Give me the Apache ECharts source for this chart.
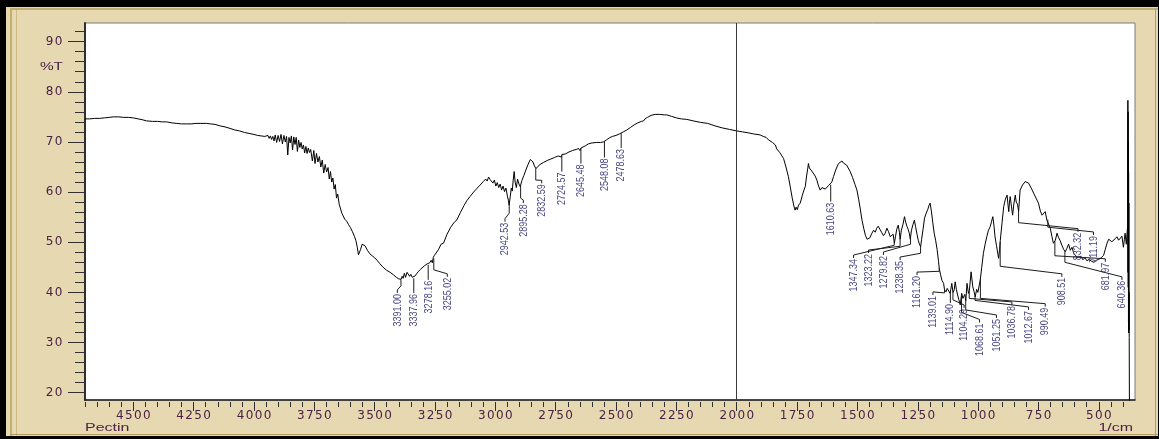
<!DOCTYPE html>
<html>
<head>
<meta charset="utf-8">
<script src="https://cdn.jsdelivr.net/npm/echarts@6/dist/echarts.min.js"></script>
<style>
  html, body { margin: 0; padding: 0; background: #000; overflow: hidden; }
  #frame { position: absolute; left: 6px; top: 7px; width: 1152px; height: 429px; background: #E6D8B0; }
  #frame .l1 { position: absolute; left: 4px; top: 2px; bottom: 0; width: 2px; background: #C4AE6E; }
  #frame .l2 { position: absolute; left: 10px; top: 2px; bottom: 0; width: 1px; background: #CDB985; }
  #frame .t1 { position: absolute; left: 4px; right: 0; top: 1px; height: 2px; background: #C4AE6E; }
  #frame .b1 { position: absolute; left: 4px; right: 0; bottom: 1px; height: 1px; background: #B49C5C; }
  #frame .r1 { position: absolute; right: 2px; top: 2px; bottom: 0; width: 1px; background: #B49C5C; }
  #chart { position: absolute; left: 0; top: 0; width: 1159px; height: 439px; }
</style>
</head>
<body>
<div id="frame"><div class="l1"></div><div class="l2"></div><div class="t1"></div><div class="b1"></div><div class="r1"></div></div>
<div id="chart"></div>
<script>
// FTIR spectrum of pectin: wavenumber (1/cm) against transmittance (%T)
const wavenumber = [
  4700, 4680, 4660, 4640, 4620, 4600, 4583, 4560, 4540, 4520, 4500, 4480, 4460, 4445, 4420, 4400,
  4380, 4362, 4340, 4320, 4300, 4279, 4260, 4240, 4220, 4196, 4180, 4161, 4140, 4120, 4099, 4080,
  4060, 4040, 4020, 4000, 3985, 3970, 3955, 3948, 3942, 3937, 3932, 3927, 3922, 3917, 3912, 3906,
  3900, 3894, 3888, 3882, 3876, 3870, 3865, 3860, 3855, 3850, 3845, 3840, 3835, 3830, 3825, 3820,
  3815, 3810, 3805, 3800, 3795, 3790, 3785, 3780, 3775, 3770, 3765, 3758, 3752, 3747, 3741, 3735,
  3729, 3723, 3717, 3711, 3705, 3699, 3693, 3688, 3683, 3678, 3673, 3668, 3663, 3658, 3653, 3647,
  3642, 3636, 3630, 3624, 3616, 3608, 3600, 3592, 3584, 3578, 3572, 3567, 3563, 3558, 3552, 3547,
  3540, 3530, 3520, 3510, 3500, 3490, 3480, 3465, 3450, 3436, 3422, 3410, 3400, 3391, 3386, 3382,
  3377, 3372, 3366, 3360, 3355, 3350, 3344, 3338, 3332, 3325, 3318, 3310, 3302, 3294, 3286, 3282,
  3278, 3272, 3266, 3261, 3257, 3255, 3252, 3246, 3236, 3225, 3215, 3200, 3185, 3170, 3160, 3145,
  3130, 3118, 3105, 3090, 3075, 3063, 3050, 3040, 3034, 3028, 3022, 3016, 3010, 3004, 2998, 2992,
  2986, 2980, 2974, 2968, 2962, 2956, 2950, 2946, 2943, 2938, 2934, 2930, 2926, 2922, 2918, 2913,
  2908, 2902, 2897, 2890, 2882, 2872, 2862, 2855, 2849, 2844, 2838, 2832, 2826, 2815, 2801, 2785,
  2770, 2755, 2740, 2732, 2727, 2724, 2720, 2710, 2695, 2680, 2665, 2655, 2650, 2645, 2640, 2628,
  2615, 2600, 2593, 2580, 2565, 2552, 2548, 2540, 2528, 2515, 2500, 2492, 2486, 2480, 2470, 2455,
  2440, 2425, 2410, 2395, 2386, 2380, 2370, 2355, 2338, 2320, 2300, 2290, 2270, 2250, 2230, 2207,
  2180, 2150, 2120, 2090, 2060, 2030, 2000, 1975, 1950, 1930, 1903, 1890, 1878, 1868, 1860, 1852,
  1848, 1840, 1834, 1828, 1822, 1815, 1806, 1796, 1786, 1778, 1770, 1763, 1758, 1754, 1749, 1744,
  1737, 1728, 1720, 1716, 1710, 1706, 1703, 1699, 1695, 1689, 1682, 1675, 1668, 1661, 1654, 1647,
  1640, 1633, 1627, 1620, 1613, 1606, 1599, 1590, 1583, 1578, 1570, 1564, 1558, 1552, 1545, 1537,
  1530, 1520, 1510, 1502, 1495, 1488, 1481, 1474, 1467, 1460, 1454, 1448, 1441, 1433, 1426, 1420,
  1414, 1406, 1400, 1392, 1385, 1378, 1371, 1364, 1358, 1352, 1347, 1342, 1337, 1331, 1326, 1323,
  1318, 1311, 1305, 1300, 1295, 1290, 1285, 1281, 1276, 1270, 1264, 1259, 1253, 1248, 1243, 1238,
  1234, 1228, 1222, 1215, 1208, 1203, 1199, 1194, 1188, 1182, 1176, 1170, 1164, 1161, 1156, 1150,
  1143, 1139, 1133, 1128, 1122, 1116, 1113, 1109, 1104, 1099, 1095, 1090, 1085, 1080, 1074, 1068,
  1063, 1060, 1055, 1051, 1046, 1040, 1036, 1029, 1022, 1017, 1012, 1006, 1001, 998, 991, 985,
  978, 971, 964, 957, 950, 944, 939, 934, 930, 924, 918, 915, 911, 908, 901, 894,
  887, 880, 876, 873, 870, 867, 862, 857, 852, 846, 842, 837, 832, 826, 816, 805,
  798, 791, 780, 770, 760, 750, 742, 735, 729, 722, 715, 708, 701, 694, 688, 680,
  673, 667, 660, 653, 646, 639, 632, 625, 618, 611, 604, 597, 590, 582, 574, 566,
  558, 549, 540, 530, 520, 510, 500, 490, 480, 473, 466, 459, 452, 446, 439, 432,
  425, 418, 411, 404, 398, 394, 391, 386, 382, 380, 379.5, 379, 378.5, 378, 377.5, 377,
  376.5, 376, 375.5, 375, 374.5, 374, 373
];
const transmittance = [
  74.6, 74.6, 74.7, 74.7, 74.8, 74.9, 75.0, 75.0, 74.9, 74.9, 74.8, 74.6, 74.4, 74.2, 74.1, 74.1,
  74.0, 74.0, 73.8, 73.7, 73.6, 73.6, 73.6, 73.7, 73.7, 73.7, 73.6, 73.5, 73.2, 73.0, 72.7, 72.4,
  72.2, 71.9, 71.7, 71.5, 71.3, 71.2, 71.1, 70.9, 71.3, 70.7, 71.2, 70.5, 71.1, 70.2, 71.4, 69.9,
  71.3, 70.1, 71.5, 69.6, 71.3, 70.0, 71.1, 67.4, 70.9, 69.8, 71.2, 68.4, 71.0, 69.5, 70.9, 68.1,
  70.4, 68.9, 69.9, 68.6, 69.4, 67.8, 69.1, 67.7, 68.8, 67.9, 68.5, 66.2, 68.3, 65.7, 67.7, 66.0,
  67.1, 65.0, 66.4, 63.8, 65.5, 64.0, 64.9, 62.6, 64.1, 62.0, 62.8, 60.6, 61.5, 58.8, 59.6, 57.6,
  57.9, 55.8, 55.6, 54.6, 54.2, 53.5, 52.9, 52.1, 51.2, 50.4, 49.0, 47.5, 47.3, 48.6, 49.6, 49.8,
  49.3, 48.4, 47.7, 47.3, 46.9, 46.4, 45.8, 45.0, 44.4, 44.0, 43.5, 43.0, 42.7, 42.6, 43.2, 42.8,
  43.8, 43.0, 44.0, 44.2, 43.2, 43.6, 43.0, 42.8, 43.3, 43.8, 44.2, 44.6, 44.9, 45.3, 45.1, 45.7,
  45.5, 45.9, 46.4, 45.9, 47.0, 46.8, 47.4, 47.6, 48.5, 49.6, 49.8, 51.6, 53.0, 54.0, 54.4, 55.9,
  57.3, 58.3, 59.1, 60.0, 60.8, 61.4, 62.1, 62.6, 62.2, 63.0, 62.5, 62.8, 61.8, 62.4, 61.2, 61.9,
  60.9, 61.6, 60.4, 61.2, 60.1, 60.8, 59.2, 58.4, 57.4, 59.2, 60.8, 60.2, 62.4, 64.1, 62.0, 60.9,
  62.6, 61.6, 61.1, 62.3, 63.3, 64.6, 65.8, 66.5, 66.7, 66.0, 65.2, 64.7, 65.0, 65.5, 65.9, 66.3,
  66.6, 66.9, 67.2, 67.3, 67.0, 67.5, 67.2, 67.6, 68.0, 68.3, 68.5, 68.7, 68.3, 68.8, 68.6, 69.2,
  69.6, 69.8, 69.9, 69.9, 69.9, 70.0, 70.2, 70.4, 70.8, 71.1, 71.3, 71.1, 71.6, 71.7, 72.0, 72.4,
  72.9, 73.4, 73.8, 74.1, 74.2, 74.6, 74.9, 75.3, 75.5, 75.5, 75.4, 75.4, 75.1, 74.8, 74.6, 74.5,
  74.2, 73.9, 73.7, 73.2, 72.8, 72.5, 72.2, 72.0, 71.8, 71.6, 71.4, 71.1, 70.9, 70.4, 70.5, 69.9,
  69.7, 69.4, 68.6, 68.8, 67.9, 67.6, 66.7, 65.0, 63.1, 61.0, 58.8, 57.2, 56.4, 57.0, 56.5, 57.4,
  57.8, 59.4, 60.6, 61.1, 63.4, 64.6, 65.7, 64.8, 65.1, 64.2, 64.1, 63.2, 62.4, 61.2, 60.4, 60.9,
  61.1, 60.6, 60.8, 61.3, 61.2, 62.0, 63.1, 64.4, 65.2, 65.7, 66.0, 66.2, 65.8, 66.1, 65.4, 65.1,
  64.1, 62.9, 61.5, 60.4, 58.6, 56.6, 54.4, 52.8, 51.4, 50.6, 50.4, 50.9, 51.7, 52.4, 52.0, 52.8,
  53.2, 53.0, 52.0, 51.3, 51.8, 52.8, 52.1, 51.1, 50.8, 51.6, 49.8, 51.2, 52.6, 53.4, 52.0, 50.6,
  52.4, 53.6, 55.1, 54.0, 53.2, 52.6, 51.8, 50.6, 52.4, 53.5, 54.4, 53.1, 51.6, 50.4, 49.6, 49.1,
  50.6, 52.6, 54.8, 55.8, 56.6, 57.4, 57.8, 56.4, 54.0, 51.8, 50.4, 48.6, 46.2, 44.8, 43.6, 42.4,
  41.8, 40.5, 40.1, 40.8, 41.1, 39.8, 40.6, 41.8, 40.0, 40.5, 42.1, 40.6, 39.5, 38.6, 37.5, 39.8,
  38.8, 38.5, 39.6, 38.3, 41.8, 39.8, 40.4, 44.1, 41.1, 40.2, 39.1, 40.6, 40.0, 40.1, 42.5, 45.0,
  47.8, 49.6, 51.1, 52.4, 53.1, 54.2, 55.1, 53.2, 51.1, 49.4, 47.6, 46.8, 48.6, 50.4, 53.8, 57.1,
  58.6, 59.4, 57.4, 56.1, 58.0, 59.1, 57.2, 55.4, 57.6, 59.4, 58.0, 57.6, 56.2, 60.4, 61.4, 62.1,
  62.0, 61.8, 60.8, 59.8, 58.8, 57.8, 56.2, 55.4, 55.6, 56.1, 54.4, 54.6, 52.8, 51.1, 49.8, 50.4,
  51.8, 51.0, 50.3, 49.4, 48.6, 48.1, 48.8, 49.6, 48.4, 49.0, 47.8, 47.4, 47.0, 46.8, 47.2, 46.5,
  46.9, 46.3, 46.6, 46.2, 46.0, 46.4, 46.6, 46.9, 47.4, 48.6, 49.8, 50.6, 50.8, 50.1, 49.8, 50.7,
  51.1, 50.4, 50.2, 51.2, 49.0, 50.6, 51.8, 49.6, 52.4, 53.4, 78.3, 44.0, 76.0, 41.0, 70.0, 34.0,
  64.0, 31.9, 57.8, 32.5, 40.0, 31.0, 15.0
];

// Axis tick labels
const xTickLabels = [4500, 4250, 4000, 3750, 3500, 3250, 3000, 2750, 2500, 2250, 2000, 1750, 1500, 1250, 1000, 750, 500];
const yTickLabels = [20, 30, 40, 50, 60, 70, 80, 90];

// Picked peaks (1/cm)
const peakWn = [
  3391.00, 3337.96, 3278.16, 3255.02, 2942.53, 2895.28, 2832.59, 2724.57, 2645.48, 2548.08,
  2478.63, 1610.63, 1347.34, 1323.22, 1279.82, 1238.35, 1161.20, 1139.01, 1114.90, 1104.29,
  1068.61, 1051.25, 1036.78, 1012.67, 990.49, 908.51, 832.32, 711.19, 681.97, 640.36
];

// Where each peak tag sits: [tag wavenumber, tag top %T, leader elbow %T]
const peakTagLayout = [
  [3406, 39.9, 41.3], [3338, 39.9, 41.0], [3277, 42.5, 43.5], [3199, 43.1, 44.5],
  [2960, 54.1, 55.8], [2884, 57.8, 58.8], [2808, 61.75, 62.4], [2723, 64.1, 64.1],
  [2645, 65.7, 65.7], [2548, 66.9, 66.9], [2479, 68.8, 68.8], [1611, 58.1, 58.1],
  [1516, 46.85, 49.4], [1454, 47.85, 49.2], [1392, 47.45, 49.6], [1323, 46.45, 47.8],
  [1253, 43.45, 44.2], [1187, 39.5, 39.9], [1118, 37.9, 37.9], [1058, 36.9, 38.5],
  [994, 34.0, 36.0], [924, 34.9, 36.5], [860, 37.5, 38.8], [791, 36.5, 38.4],
  [722, 37.15, 38.8], [653, 43.1, 45.2], [586, 52.1, 53.9], [522, 51.45, 53.0],
  [473, 46.1, 47.3], [404, 42.5, 46.0]
];

const AXIS_TEXT = '#4b2246';
const TAG_TEXT = '#474682';
const X_MIN = 350, X_MAX = 4700, Y_MIN = 18.54, Y_MAX = 93.72;

// %T on the drawn trace at a given wavenumber
function traceAt(w) {
  for (let i = 0; i < wavenumber.length - 1; i++) {
    const a = wavenumber[i], b = wavenumber[i + 1];
    if (w <= a && w >= b) {
      const f = (a - w) / (a - b);
      return transmittance[i] + f * (transmittance[i + 1] - transmittance[i]);
    }
  }
  return transmittance[transmittance.length - 1];
}

const spectrum = wavenumber.map((w, i) => [w, transmittance[i]]);
const peakData = peakWn.map((w, i) => [w, traceAt(w), peakTagLayout[i][0], peakTagLayout[i][1], peakTagLayout[i][2]]);

// Tick numbers are set one digit per fixed-width cell
function spaced(v) {
  return String(v).split('').map(c => '{d|' + c + '}').join('');
}
const digitRich = { d: { width: 9, align: 'center', fontSize: 12, fontFamily: 'DejaVu Sans', color: AXIS_TEXT } };

const minorX = [];
for (let w = 400; w <= 4700; w += 50) minorX.push(w);
const minorY = [];
for (let t = 20; t <= 92; t += 2) if (t % 10 !== 0) minorY.push(t);

const chart = echarts.init(document.getElementById('chart'), null, { renderer: 'canvas' });

const baseX = { type: 'value', min: X_MIN, max: X_MAX, inverse: true, position: 'bottom', splitLine: { show: false } };
const baseY = { type: 'value', min: Y_MIN, max: Y_MAX, position: 'left', splitLine: { show: false } };

chart.setOption({
  animation: false,
  backgroundColor: 'transparent',
  grid: {
    left: 85, top: 23, width: 1050, height: 377,
    show: true, backgroundColor: '#ffffff', borderColor: '#7a7a7a', borderWidth: 1
  },
  xAxis: [
    Object.assign({}, baseX, {
      axisLine: { show: true, onZero: false, lineStyle: { color: '#202020', width: 1.5 } },
      axisTick: { show: false },
      axisLabel: { customValues: xTickLabels, margin: 10, formatter: spaced, rich: digitRich }
    }),
    Object.assign({}, baseX, {
      offset: 2,
      axisLine: { show: false, onZero: false },
      axisTick: { show: true, customValues: minorX, length: 5, lineStyle: { color: '#303030' } },
      axisLabel: { show: false }
    }),
    Object.assign({}, baseX, {
      offset: 2,
      axisLine: { show: false, onZero: false },
      axisTick: { show: true, customValues: xTickLabels, length: 9, lineStyle: { color: '#303030' } },
      axisLabel: { show: false }
    })
  ],
  yAxis: [
    Object.assign({}, baseY, {
      axisLine: { show: true, onZero: false, lineStyle: { color: '#303030', width: 2 } },
      axisTick: { show: true, customValues: yTickLabels, length: 17, lineStyle: { color: '#303030' } },
      axisLabel: { customValues: yTickLabels, margin: 22, formatter: spaced, rich: digitRich }
    }),
    Object.assign({}, baseY, {
      axisLine: { show: false, onZero: false },
      axisTick: { show: true, customValues: minorY, length: 10, lineStyle: { color: '#303030' } },
      axisLabel: { show: false }
    })
  ],
  graphic: [
    { type: 'text', x: 85, y: 428, scaleX: 1.45, style: { text: 'Pectin', font: '11px "Liberation Sans"', fill: AXIS_TEXT, align: 'left', verticalAlign: 'middle' } },
    { type: 'text', x: 1133, y: 428, scaleX: 1.45, style: { text: '1/cm', font: '11px "Liberation Sans"', fill: AXIS_TEXT, align: 'right', verticalAlign: 'middle' } },
    { type: 'text', x: 63, y: 67, scaleX: 1.4, style: { text: '%T', font: '11px "Liberation Sans"', fill: AXIS_TEXT, align: 'right', verticalAlign: 'middle' } }
  ],
  series: [
    {
      type: 'line',
      xAxisIndex: 0, yAxisIndex: 0,
      data: spectrum,
      showSymbol: false,
      clip: true,
      lineStyle: { color: '#000000', width: 1 },
      silent: true,
      markLine: {
        silent: true,
        symbol: ['none', 'none'],
        label: { show: false },
        lineStyle: { color: '#3a3a3a', width: 1, type: 'solid' },
        data: [{ xAxis: 2000 }]
      },
      z: 3
    },
    {
      type: 'custom',
      xAxisIndex: 0, yAxisIndex: 0,
      data: peakData,
      silent: true,
      z: 4,
      renderItem: function (params, api) {
        const p = api.coord([api.value(0), api.value(1)]);
        const top = api.coord([api.value(2), api.value(3)]);
        let pts;
        if (Math.abs(p[0] - top[0]) < 2) {
          pts = [p, [p[0], top[1]]];
        } else {
          const e1 = api.coord([api.value(0), api.value(4)]);
          pts = [p, e1, [top[0], top[1] - 3], top];
        }
        return {
          type: 'group',
          children: [
            { type: 'polyline', shape: { points: pts }, style: { stroke: '#1c1c1c', lineWidth: 1, fill: null } },
            {
              type: 'text', x: top[0], y: top[1] + 1, rotation: Math.PI / 2, scaleY: 1.3,
              style: {
                text: peakWn[params.dataIndex].toFixed(2),
                fill: TAG_TEXT, font: '9px "Liberation Sans"',
                align: 'right', verticalAlign: 'middle'
              }
            }
          ]
        };
      }
    }
  ]
});
</script>
</body>
</html>
